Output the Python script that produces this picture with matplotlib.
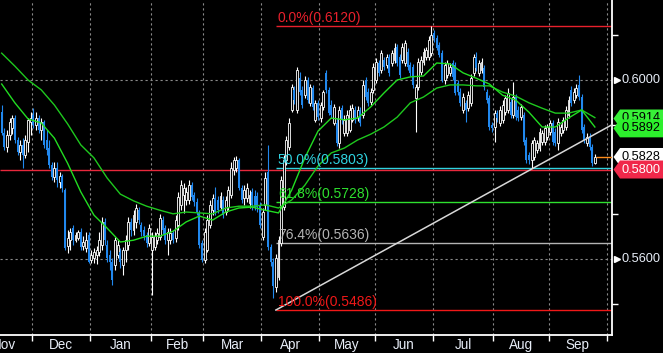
import numpy as np
import pandas as pd
import matplotlib
matplotlib.use("Agg")
import matplotlib.pyplot as plt
from matplotlib.patches import Polygon
from matplotlib.transforms import blended_transform_factory

plt.rcParams['font.family'] = ['Liberation Sans Narrow', 'Liberation Sans', 'DejaVu Sans']

# daily candles, first one on 2019-11-14
first_day = '2019-11-14'
open_ = [
    0.5928, 0.5882, 0.5850, 0.5877, 0.5893, 0.5915, 0.5866, 0.5839, 0.5855, 0.5832,
    0.5861, 0.5906, 0.5922, 0.5899, 0.5915, 0.5888, 0.5906, 0.5866, 0.5848, 0.5810,
    0.5783, 0.5803, 0.5772, 0.5785, 0.5754, 0.5629, 0.5642, 0.5669, 0.5642, 0.5647,
    0.5660, 0.5629, 0.5625, 0.5654, 0.5598, 0.5602, 0.5609, 0.5616, 0.5631, 0.5683,
    0.5631, 0.5609, 0.5593, 0.5587, 0.5609, 0.5616, 0.5587, 0.5620, 0.5631, 0.5683,
    0.5665, 0.5683, 0.5709, 0.5676, 0.5665, 0.5654, 0.5636, 0.5620, 0.5627, 0.5642,
    0.5649, 0.5687, 0.5669, 0.5642, 0.5642, 0.5658, 0.5647, 0.5676, 0.5721, 0.5743,
    0.5732, 0.5732, 0.5765, 0.5743, 0.5727, 0.5703, 0.5636, 0.5598, 0.5620, 0.5676,
    0.5709, 0.5736, 0.5732, 0.5716, 0.5732, 0.5705, 0.5716, 0.5743, 0.5799, 0.5803,
    0.5821, 0.5759, 0.5736, 0.5736, 0.5725, 0.5750, 0.5741, 0.5741, 0.5721, 0.5649,
    0.5721, 0.5794, 0.5627, 0.5593, 0.5538, 0.5560, 0.5636, 0.5716, 0.5821, 0.5850,
    0.5933, 0.5978, 0.5933, 0.6004, 0.5978, 0.5966, 0.6000, 0.5949, 0.5982, 0.5911,
    0.5949, 0.5915, 0.5940, 0.6016, 0.5978, 0.5944, 0.5904, 0.5904, 0.5859, 0.5937,
    0.5882, 0.5882, 0.5888, 0.5911, 0.5933, 0.5917, 0.5933, 0.5922, 0.6000, 0.5973,
    0.5951, 0.5978, 0.6000, 0.6038, 0.6022, 0.6045, 0.6034, 0.6051, 0.6038, 0.6045,
    0.6074, 0.6051, 0.6045, 0.6038, 0.6063, 0.6034, 0.6029, 0.5960, 0.5984, 0.6018,
    0.6040, 0.6051, 0.6051, 0.6060, 0.6105, 0.6094, 0.6078, 0.6060, 0.6000, 0.6011,
    0.6016, 0.6038, 0.6034, 0.5993, 0.5973, 0.5933, 0.5949, 0.5937, 0.5949, 0.6016,
    0.6049, 0.6016, 0.6022, 0.6027, 0.5973, 0.5960, 0.5899, 0.5895, 0.5926, 0.5904,
    0.5911, 0.5928, 0.5933, 0.5951, 0.5922, 0.5962, 0.5933, 0.5917, 0.5922, 0.5866,
    0.5832, 0.5821, 0.5828, 0.5844, 0.5848, 0.5861, 0.5861, 0.5873, 0.5884, 0.5904,
    0.5884, 0.5859, 0.5882, 0.5888, 0.5895, 0.5922, 0.5978, 0.5955, 0.5966, 0.5989,
    0.5962, 0.5895, 0.5859, 0.5873, 0.5850, 0.5814,
]
high = [
    0.5944, 0.5893, 0.5888, 0.5915, 0.5922, 0.5922, 0.5873, 0.5866, 0.5870, 0.5877,
    0.5915, 0.5928, 0.5937, 0.5928, 0.5922, 0.5915, 0.5911, 0.5888, 0.5866, 0.5817,
    0.5817, 0.5817, 0.5794, 0.5790, 0.5759, 0.5665, 0.5669, 0.5676, 0.5660, 0.5665,
    0.5669, 0.5651, 0.5660, 0.5660, 0.5620, 0.5625, 0.5629, 0.5660, 0.5694, 0.5692,
    0.5642, 0.5620, 0.5602, 0.5649, 0.5642, 0.5625, 0.5627, 0.5654, 0.5694, 0.5692,
    0.5709, 0.5723, 0.5716, 0.5683, 0.5674, 0.5660, 0.5678, 0.5660, 0.5660, 0.5669,
    0.5701, 0.5696, 0.5676, 0.5669, 0.5669, 0.5665, 0.5698, 0.5750, 0.5777, 0.5770,
    0.5761, 0.5777, 0.5772, 0.5750, 0.5736, 0.5709, 0.5642, 0.5669, 0.5698, 0.5732,
    0.5745, 0.5761, 0.5741, 0.5750, 0.5741, 0.5741, 0.5763, 0.5817, 0.5828, 0.5830,
    0.5826, 0.5765, 0.5765, 0.5770, 0.5754, 0.5759, 0.5754, 0.5750, 0.5727, 0.5714,
    0.5794, 0.5855, 0.5633, 0.5602, 0.5611, 0.5651, 0.5785, 0.5832, 0.5875, 0.5915,
    0.5991, 0.5987, 0.6029, 0.6018, 0.5987, 0.6009, 0.6007, 0.5991, 0.5989, 0.5955,
    0.5955, 0.5951, 0.5978, 0.6022, 0.5984, 0.5955, 0.5946, 0.5915, 0.5942, 0.5944,
    0.5922, 0.5933, 0.5944, 0.5946, 0.5942, 0.5942, 0.5940, 0.6000, 0.6007, 0.5982,
    0.5982, 0.6038, 0.6049, 0.6045, 0.6067, 0.6051, 0.6058, 0.6058, 0.6067, 0.6083,
    0.6080, 0.6058, 0.6083, 0.6089, 0.6072, 0.6040, 0.6036, 0.5991, 0.6049, 0.6054,
    0.6072, 0.6074, 0.6098, 0.6120, 0.6112, 0.6101, 0.6085, 0.6067, 0.6040, 0.6045,
    0.6038, 0.6045, 0.6040, 0.6000, 0.5982, 0.5971, 0.5955, 0.5975, 0.6013, 0.6058,
    0.6063, 0.6045, 0.6049, 0.6034, 0.5980, 0.5966, 0.5906, 0.5933, 0.5933, 0.5942,
    0.5955, 0.5966, 0.5982, 0.5960, 0.5996, 0.5969, 0.5942, 0.5946, 0.5928, 0.5873,
    0.5839, 0.5866, 0.5873, 0.5866, 0.5893, 0.5888, 0.5899, 0.5902, 0.5911, 0.5911,
    0.5893, 0.5915, 0.5902, 0.5917, 0.5942, 0.5964, 0.5987, 0.5982, 0.5991, 0.6011,
    0.5969, 0.5902, 0.5882, 0.5882, 0.5857, 0.5835,
]
low = [
    0.5877, 0.5844, 0.5839, 0.5866, 0.5879, 0.5859, 0.5832, 0.5821, 0.5803, 0.5826,
    0.5839, 0.5877, 0.5893, 0.5888, 0.5882, 0.5866, 0.5848, 0.5832, 0.5803, 0.5777,
    0.5772, 0.5761, 0.5759, 0.5750, 0.5620, 0.5613, 0.5620, 0.5631, 0.5638, 0.5642,
    0.5620, 0.5620, 0.5616, 0.5591, 0.5591, 0.5591, 0.5589, 0.5607, 0.5620, 0.5631,
    0.5593, 0.5575, 0.5542, 0.5575, 0.5602, 0.5580, 0.5564, 0.5593, 0.5620, 0.5651,
    0.5654, 0.5669, 0.5678, 0.5651, 0.5642, 0.5627, 0.5629, 0.5520, 0.5620, 0.5633,
    0.5642, 0.5656, 0.5633, 0.5609, 0.5633, 0.5636, 0.5638, 0.5665, 0.5709, 0.5703,
    0.5721, 0.5723, 0.5732, 0.5718, 0.5698, 0.5625, 0.5593, 0.5591, 0.5616, 0.5669,
    0.5698, 0.5698, 0.5703, 0.5709, 0.5692, 0.5698, 0.5709, 0.5736, 0.5788, 0.5794,
    0.5754, 0.5725, 0.5721, 0.5727, 0.5714, 0.5709, 0.5709, 0.5705, 0.5669, 0.5642,
    0.5709, 0.5620, 0.5584, 0.5513, 0.5526, 0.5553, 0.5629, 0.5709, 0.5810, 0.5844,
    0.5928, 0.5946, 0.5926, 0.5966, 0.5937, 0.5960, 0.5949, 0.5942, 0.5933, 0.5906,
    0.5911, 0.5906, 0.5933, 0.5971, 0.5922, 0.5915, 0.5899, 0.5852, 0.5848, 0.5902,
    0.5875, 0.5875, 0.5884, 0.5906, 0.5904, 0.5908, 0.5897, 0.5915, 0.5955, 0.5942,
    0.5944, 0.5971, 0.5993, 0.6009, 0.6016, 0.6022, 0.6027, 0.6009, 0.6031, 0.6038,
    0.6031, 0.6004, 0.6038, 0.6031, 0.6022, 0.6009, 0.5982, 0.5884, 0.5978, 0.6011,
    0.6034, 0.6045, 0.6045, 0.6054, 0.6085, 0.6067, 0.6051, 0.5996, 0.5991, 0.6004,
    0.6009, 0.6000, 0.5966, 0.5966, 0.5942, 0.5926, 0.5906, 0.5931, 0.5942, 0.6009,
    0.6020, 0.6009, 0.6016, 0.5978, 0.5949, 0.5888, 0.5884, 0.5861, 0.5906, 0.5897,
    0.5904, 0.5922, 0.5926, 0.5915, 0.5915, 0.5911, 0.5908, 0.5911, 0.5855, 0.5814,
    0.5812, 0.5803, 0.5821, 0.5837, 0.5841, 0.5855, 0.5855, 0.5866, 0.5877, 0.5855,
    0.5852, 0.5844, 0.5875, 0.5882, 0.5888, 0.5915, 0.5942, 0.5949, 0.5960, 0.5955,
    0.5882, 0.5859, 0.5852, 0.5844, 0.5808, 0.5812,
]
close = [
    0.5882, 0.5850, 0.5877, 0.5906, 0.5915, 0.5866, 0.5839, 0.5855, 0.5832, 0.5866,
    0.5911, 0.5915, 0.5899, 0.5915, 0.5888, 0.5906, 0.5855, 0.5844, 0.5810, 0.5783,
    0.5803, 0.5777, 0.5785, 0.5759, 0.5625, 0.5647, 0.5660, 0.5642, 0.5654, 0.5660,
    0.5627, 0.5638, 0.5642, 0.5593, 0.5609, 0.5616, 0.5620, 0.5642, 0.5683, 0.5642,
    0.5602, 0.5593, 0.5553, 0.5642, 0.5631, 0.5593, 0.5620, 0.5642, 0.5683, 0.5665,
    0.5698, 0.5714, 0.5687, 0.5660, 0.5651, 0.5636, 0.5669, 0.5649, 0.5651, 0.5658,
    0.5692, 0.5665, 0.5642, 0.5660, 0.5658, 0.5642, 0.5687, 0.5738, 0.5765, 0.5759,
    0.5750, 0.5765, 0.5738, 0.5727, 0.5705, 0.5631, 0.5598, 0.5660, 0.5687, 0.5721,
    0.5736, 0.5705, 0.5709, 0.5741, 0.5698, 0.5732, 0.5754, 0.5803, 0.5821, 0.5821,
    0.5759, 0.5732, 0.5754, 0.5759, 0.5743, 0.5721, 0.5716, 0.5716, 0.5676, 0.5705,
    0.5781, 0.5627, 0.5593, 0.5540, 0.5602, 0.5642, 0.5777, 0.5821, 0.5866, 0.5904,
    0.5984, 0.5955, 0.6022, 0.5973, 0.5944, 0.6000, 0.5955, 0.5984, 0.5940, 0.5949,
    0.5917, 0.5944, 0.5973, 0.5978, 0.5926, 0.5922, 0.5940, 0.5859, 0.5933, 0.5911,
    0.5911, 0.5922, 0.5933, 0.5937, 0.5911, 0.5933, 0.5904, 0.5989, 0.5962, 0.5949,
    0.5973, 0.6029, 0.6040, 0.6016, 0.6060, 0.6029, 0.6051, 0.6016, 0.6060, 0.6072,
    0.6038, 0.6011, 0.6074, 0.6083, 0.6029, 0.6016, 0.5989, 0.5984, 0.6040, 0.6045,
    0.6063, 0.6067, 0.6089, 0.6101, 0.6094, 0.6072, 0.6056, 0.6000, 0.6034, 0.6038,
    0.6029, 0.6007, 0.5971, 0.5973, 0.5949, 0.5962, 0.5933, 0.5966, 0.6004, 0.6051,
    0.6027, 0.6038, 0.6040, 0.5984, 0.5955, 0.5895, 0.5893, 0.5926, 0.5915, 0.5933,
    0.5944, 0.5960, 0.5971, 0.5922, 0.5962, 0.5917, 0.5915, 0.5940, 0.5861, 0.5821,
    0.5821, 0.5859, 0.5866, 0.5859, 0.5884, 0.5882, 0.5893, 0.5895, 0.5904, 0.5861,
    0.5859, 0.5906, 0.5895, 0.5911, 0.5933, 0.5955, 0.5949, 0.5973, 0.5982, 0.5962,
    0.5888, 0.5866, 0.5873, 0.5850, 0.5814, 0.5828,
]

# moving averages, one reading every 5 sessions
ma_step = 5
ma_fast = [
    0.5991, 0.5949, 0.5913, 0.5904, 0.5870, 0.5814, 0.5750, 0.5698, 0.5669, 0.5638,
    0.5642, 0.5651, 0.5651, 0.5662, 0.5683, 0.5696, 0.5687, 0.5705, 0.5714, 0.5716,
    0.5709, 0.5703, 0.5754, 0.5826, 0.5886, 0.5915, 0.5911, 0.5915, 0.5940, 0.5971,
    0.6000, 0.6007, 0.6009, 0.6038, 0.6036, 0.6016, 0.6004, 0.5991, 0.5966, 0.5955,
    0.5928, 0.5895, 0.5895, 0.5915, 0.5933, 0.5895,
]
ma_slow = [
    0.6060, 0.6031, 0.6000, 0.5978, 0.5944, 0.5902, 0.5855, 0.5826, 0.5781, 0.5745,
    0.5730, 0.5718, 0.5709, 0.5701, 0.5705, 0.5703, 0.5701, 0.5714, 0.5718, 0.5718,
    0.5721, 0.5714, 0.5732, 0.5765, 0.5808, 0.5837, 0.5848, 0.5866, 0.5879, 0.5895,
    0.5917, 0.5949, 0.5962, 0.5982, 0.5989, 0.5989, 0.5987, 0.5987, 0.5973, 0.5964,
    0.5949, 0.5937, 0.5926, 0.5926, 0.5933, 0.5916,
]

# fibonacci retracement of the March low -> June high
fib_start = 104
fib_pct = ['0.0%', '50.0%', '61.8%', '76.4%', '100.0%']
fib_levels = [0.6120, 0.5803, 0.5728, 0.5636, 0.5486]
fib_colors = ['#e8202c', '#2fd3e0', '#2ee02e', '#b4b4b4', '#f01818']

trend_idx = [104, 201]
trend_px = [0.5486, 0.5801]

support = 0.5800
last_price = 0.5828
tag_vals = [0.5914, 0.5892, 0.5828, 0.5800]
tag_face = ['#38f038', '#2cf02c', '#ffffff', '#f0284a']
tag_text = ['black', 'black', 'black', 'white']
axis_labels = [0.5600, 0.6000]

blue = '#2188ee'
grid_c = '#8a8a8a'
txt_c = '#e8eef8'

W, H = 663, 353
fig = plt.figure(figsize=(W / 100, H / 100), dpi=100, facecolor='black')
ax = fig.add_axes([0, 18 / H, 612 / W, 335 / H], facecolor='black')
xmin, xmax = -0.64, 231.5
ymin, ymax = 0.54302, 0.61788
ax.set_xlim(xmin, xmax)
ax.set_ylim(ymin, ymax)

# font sizes picked so that the text widths come near the picture's
renderer = fig.canvas.get_renderer()
def size_for(s, target_px, base=11.0):
    t = fig.text(0, 0, s, fontsize=base)
    w = t.get_window_extent(renderer=renderer).width
    t.remove()
    return base * target_px / w

fs_tag = size_for('0.5892', 39)
fs_fib = size_for('0.0%(0.6120)', 83)
fs_mon = size_for('Dec', 24)

o, h, l, c = (np.array(v) for v in (open_, high, low, close))
x = np.arange(len(c))
up = c >= o

# calendar: trading days, month boundaries
days = pd.bdate_range('2019-11-01', '2020-10-30')
shift = days.get_loc(pd.Timestamp(first_day))
months = pd.date_range('2019-11-01', '2020-10-01', freq='MS')
bounds = np.array([days.searchsorted(m) for m in months]) - shift - 0.5

# grid
for yv in axis_labels:
    ax.axhline(yv, color=grid_c, lw=0.8, ls=(0, (2, 2.5)), zorder=0.5)
for b in bounds[1:]:
    ax.axvline(b, color=grid_c, lw=0.8, ls=(0, (2, 2.5)), zorder=0.5)

# candles
ax.vlines(x[up], l[up], h[up], color='white', lw=0.8, zorder=2)
ax.vlines(x[~up], l[~up], h[~up], color=blue, lw=0.8, zorder=2)
ax.bar(x[up], c[up] - o[up], bottom=o[up], width=0.72, facecolor='black',
       edgecolor='white', lw=0.6, zorder=3)
ax.bar(x[~up], o[~up] - c[~up], bottom=c[~up], width=0.72, color=blue, lw=0, zorder=3)

# moving averages
mx = np.arange(len(ma_fast)) * ma_step
ax.plot(mx, ma_slow, color='#1ec81e', lw=1.0, zorder=4)
ax.plot(mx, ma_fast, color='#22dd22', lw=1.0, zorder=4)

# horizontal levels
ax.hlines(support, xmin, xmax, color='#e8283c', lw=1.0, zorder=1)
for pct, lv, col in zip(fib_pct, fib_levels, fib_colors):
    ax.hlines(lv, fib_start, xmax, color=col, lw=1.0, zorder=1)
    ax.annotate(f'{pct}({lv:.4f})', (fib_start, lv), xytext=(2, 1), textcoords='offset pixels',
                color=col, fontsize=fs_fib, ha='left', va='bottom', zorder=5)

# trendline from the low
slope = (trend_px[1] - trend_px[0]) / (trend_idx[1] - trend_idx[0])
ax.plot([trend_idx[0], xmax], [trend_px[0], trend_px[0] + slope * (xmax - trend_idx[0])],
        color='#d8d8d8', lw=1.1, zorder=4)

# last price marker
ax.hlines(last_price, x[-1] + 0.4, xmax, color='#ff8c1a', lw=1.0, zorder=4)

# axes frame
for s in ('top', 'left'):
    ax.spines[s].set_visible(False)
for s in ('bottom', 'right'):
    ax.spines[s].set_color('white')
    ax.spines[s].set_linewidth(1.3)
ax.yaxis.tick_right()
ax.set_yticks([0.55, 0.57, 0.59, 0.61])
ax.set_yticklabels([])
ax.set_xticks(bounds[1:])
ax.set_xticklabels([])
ax.tick_params(colors='white', direction='out', length=4, width=1)

# month names
mnames = [m.strftime('%b') for m in months]
centers = (bounds[:-1] + bounds[1:]) / 2
tx = blended_transform_factory(ax.transData, ax.transAxes)
for cx, name in zip(centers, mnames[:-1]):
    ax.text(cx, -10 / 335, name, transform=tx, color=txt_c, fontsize=fs_mon,
            ha='center', va='center', clip_on=False)

# right axis labels and tags
ty = blended_transform_factory(ax.transAxes, ax.transData)
ppx = 1 / 612
dpp = (ymax - ymin) / 335
for v in axis_labels:
    ax.plot([1 + 5 * ppx], [v], marker='>', ms=4, color='white', transform=ty, clip_on=False)
    ax.text(1 + 9 * ppx, v, f'{v:.4f}', transform=ty, color=txt_c, fontsize=fs_tag,
            ha='left', va='center', clip_on=False)

for k, (v, fc, tc) in enumerate(zip(tag_vals, tag_face, tag_text)):
    hh = 9 * dpp
    pts = [(1 + 1.5 * ppx, v), (1 + 8 * ppx, v + hh), (1 + 60 * ppx, v + hh),
           (1 + 60 * ppx, v - hh), (1 + 8 * ppx, v - hh)]
    ax.add_patch(Polygon(pts, closed=True, transform=ty, facecolor=fc, edgecolor='none',
                         clip_on=False, zorder=10 + k))
    ax.text(1 + 9 * ppx, v, f'{v:.4f}', transform=ty, color=tc, fontsize=fs_tag,
            ha='left', va='center', clip_on=False, zorder=10.5 + k)

fig.savefig('out.png', dpi=100, facecolor='black')
